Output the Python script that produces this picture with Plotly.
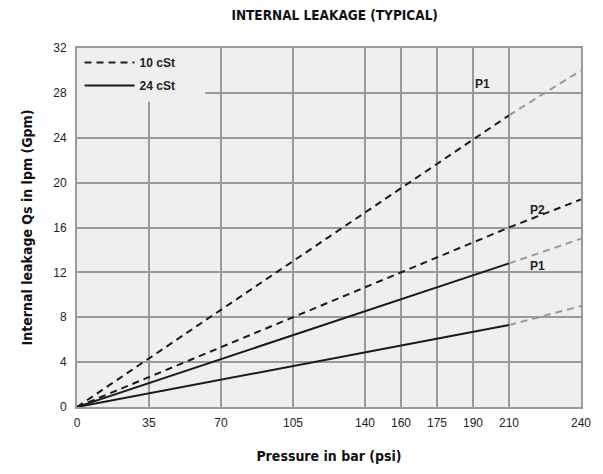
import numpy as np
import plotly.graph_objects as go

# ---- data ----
pressure_ticks = [0, 35, 70, 105, 140, 160, 175, 190, 210, 240]
pressure = [0, 210, 240]
p1_10cst = [0, 26.0, 30.0]
p2_10cst = [0, 16.0, 18.5]
p1_24cst = [0, 12.8, 15.0]
p2_24cst = [0, 7.3, 9.0]
y_ticks = [0, 4, 8, 12, 16, 20, 24, 28, 32]

# The chart's pressure axis has irregular gridline spacing (wide and narrow columns)
col_widths = [1, 1, 1, 1, 0.5, 0.5, 0.5, 0.5, 1]
grid_pos = np.concatenate([[0], np.cumsum(col_widths)])


def xs(p):
    return np.interp(p, pressure_ticks, grid_pos)


BLACK = "#1a1a1a"
GREY = "#9a9a9a"
DASH = "7px,5px"

fig = go.Figure()

def seg(x, y, color, dash, name=None, legend=False, group=None):
    fig.add_trace(go.Scatter(
        x=xs(x), y=y, mode="lines",
        line=dict(color=color, width=2, dash=dash),
        name=name, showlegend=legend, legendgroup=group, hoverinfo="skip"))

# 10 cSt (dashed)
seg(pressure[:2], p1_10cst[:2], BLACK, DASH, "10 cSt", True, "a")
seg(pressure[1:], p1_10cst[1:], GREY, DASH)
seg(pressure, p2_10cst, BLACK, DASH)
# 24 cSt (solid)
seg(pressure[:2], p1_24cst[:2], BLACK, "solid", "24 cSt", True, "b")
seg(pressure[1:], p1_24cst[1:], GREY, DASH)
seg(pressure[:2], p2_24cst[:2], BLACK, "solid")
seg(pressure[1:], p2_24cst[1:], GREY, DASH)

lab_font = dict(family="Liberation Sans", size=12, color="#222")
fig.add_annotation(x=xs(195), y=28.8, text="<b>P1</b>", showarrow=False, font=lab_font)
fig.add_annotation(x=xs(222), y=17.6, text="<b>P2</b>", showarrow=False, font=lab_font)
fig.add_annotation(x=xs(222), y=12.6, text="<b>P1</b>", showarrow=False, font=lab_font)

# box behind legend hiding the grid
fig.add_shape(type="rect", xref="x", yref="y", x0=0, x1=1.78, y0=27.2, y1=32,
              fillcolor="#efefef", line_width=0, layer="between")

cond = "DejaVu Sans Condensed"
fig.update_layout(
    width=603, height=474,
    margin=dict(l=77, r=22, t=48, b=65),
    paper_bgcolor="white", plot_bgcolor="#efefef",
    title=dict(text="<b>INTERNAL LEAKAGE (TYPICAL)</b>", x=0.555, xanchor="center",
               y=0.968, yanchor="middle",
               font=dict(family=cond, size=13.5, color="#111")),
    legend=dict(x=0.005, y=1.0, xanchor="left", yanchor="top",
                bgcolor="rgba(0,0,0,0)", itemwidth=50, tracegroupgap=4,
                font=dict(family="Liberation Sans", size=12, color="#222", weight="bold")),
    xaxis=dict(range=[0, 7], tickvals=xs(pressure_ticks), ticktext=[str(v) for v in pressure_ticks],
               showgrid=True, gridcolor=GREY, gridwidth=1.5, zeroline=False,
               showline=True, linecolor=GREY, linewidth=2, mirror=True,
               ticks="", ticklabelstandoff=4,
               tickfont=dict(family="Liberation Sans", size=12, color="#222"),
               title=dict(text="<b>Pressure in bar (psi)</b>", standoff=22,
                          font=dict(family=cond, size=14, color="#111"))),
    yaxis=dict(range=[0, 32], tickvals=y_ticks,
               showgrid=True, gridcolor=GREY, gridwidth=1.5, zeroline=False,
               showline=True, linecolor=GREY, linewidth=2, mirror=True,
               ticks="", ticklabelstandoff=6,
               tickfont=dict(family="Liberation Sans", size=12, color="#222"),
               title=dict(text="<b>Internal leakage Qs in lpm (Gpm)</b>", standoff=17,
                          font=dict(family=cond, size=14, color="#111"))),
)

fig.write_html("out.html")
